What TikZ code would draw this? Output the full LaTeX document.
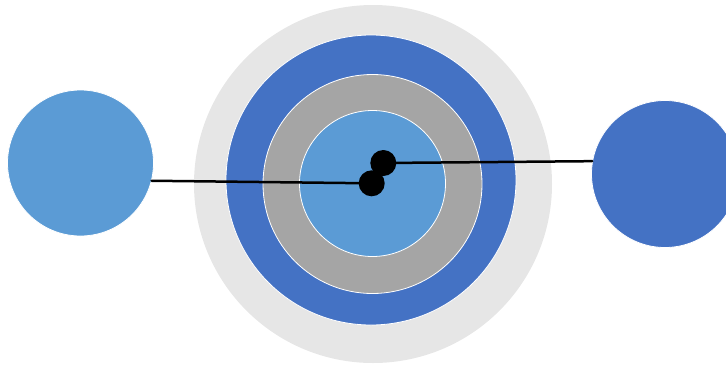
\documentclass[tikz,border=0pt]{standalone}
\usetikzlibrary{calc}
\definecolor{vongngoai}{HTML}{E6E6E6}
\definecolor{xanhdam}{HTML}{4472C4}
\definecolor{xamvua}{HTML}{A5A5A5}
\definecolor{xanhnhat}{HTML}{5B9BD5}
\begin{document}
\begin{tikzpicture}[x=1pt, y=-1pt, line cap=round, line join=round,
	vong/.style={circle, inner sep=0pt, draw=white, line width=0.8pt},
	cham/.style={circle, fill=black, inner sep=0pt, minimum size=26pt},
	noi/.style={line width=2.5pt}]
	\useasboundingbox (0,0) rectangle (726,365);
	
	% Tâm hai chấm đen
	\coordinate (M) at (371.7,183.3);
	\coordinate (N) at (383.3,163);
	
	% Các vòng tròn đồng tâm
	\node[vong, fill=vongngoai, draw=none, minimum size=358pt] (V1) at (373,184) {};
	\node[vong, fill=xanhdam, minimum size=290pt] (V2) at (371,180) {};
	\node[vong, fill=xamvua, minimum size=219pt] (V3) at (372.5,184) {};
	\node[vong, fill=xanhnhat, minimum size=146pt] (V4) at (372.5,183.5) {};
	
	% Hai hình tròn hai bên
	\node[vong, fill=xanhnhat, minimum size=146pt] (L) at (80.5,163) {};
	\node[vong, fill=xanhdam, minimum size=147pt] (R) at (665,174) {};
	
	% Đoạn nối
	\draw[noi] (L.-14) -- (M);
	\draw[noi] (N) -- (R.170);
	
	% Hai chấm đen
	\node[cham] (Mc) at (M) {};
	\node[cham] (Nc) at (N) {};
\end{tikzpicture}
\end{document}
